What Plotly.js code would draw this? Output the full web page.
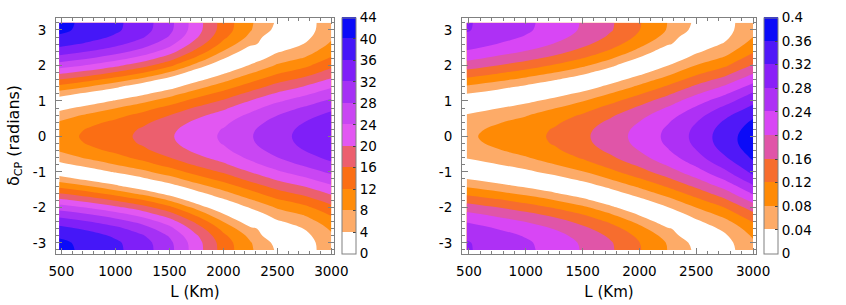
<!DOCTYPE html>
<html><head><meta charset="utf-8">
<script src="https://cdn.plot.ly/plotly-3.0.1.min.js"></script>
<style>html,body{margin:0;padding:0;background:#fff}#chart{width:846px;height:305px}</style>
</head><body><div id="chart"></div>
<script>
// Baseline L (km) columns and delta_CP rows (radians)
const L_km = [480, 750, 1000, 1250, 1500, 1750, 2000, 2250, 2500, 2750, 3000];
const deltaCP = [-3.2,-3.0,-2.8,-2.6,-2.4,-2.2,-2.0,-1.8,-1.6,-1.4,-1.2,-1.0,-0.8,-0.6,-0.4,-0.2,0,
                 0.2,0.4,0.6,0.8,1.0,1.2,1.4,1.6,1.8,2.0,2.2,2.4,2.6,2.8,3.0,3.2];

// Left panel values (rows follow deltaCP, columns follow L_km)
const zLeft = [
 [41.0,39.1,36.9,33.9,29.3,21.9,14.3,8.6,3.4,1.9,6.5],
 [40.8,38.9,36.7,33.7,29.0,21.7,14.1,8.3,2.7,2.1,6.6],
 [39.5,37.6,35.4,32.4,27.7,20.5,12.9,7.0,0.3,2.8,7.3],
 [37.3,35.3,33.1,30.0,25.3,18.2,10.8,4.8,1.6,4.1,8.6],
 [34.2,32.1,29.8,26.6,22.0,15.0,7.9,1.5,3.5,6.0,10.3],
 [30.4,28.2,25.7,22.4,17.8,11.1,4.2,1.5,5.8,8.3,12.5],
 [26.0,23.6,20.9,17.6,13.0,6.6,0.0,4.4,8.5,11.0,15.0],
 [21.1,18.6,15.7,12.3,7.7,1.6,3.3,7.5,11.4,14.0,17.7],
 [16.0,13.3,10.3,6.7,2.2,2.7,6.7,10.7,14.5,17.1,20.6],
 [10.8,8.0,4.8,1.1,2.4,6.5,10.1,14.0,17.6,20.2,23.5],
 [5.9,2.9,0.4,3.2,6.4,10.1,13.5,17.2,20.6,23.2,26.2],
 [1.3,1.7,4.4,7.0,10.0,13.5,16.5,20.1,23.4,26.0,28.8],
 [2.7,5.5,7.9,10.4,13.3,16.5,19.3,22.7,25.9,28.5,31.1],
 [5.9,8.6,10.7,13.1,15.9,19.0,21.5,24.8,27.9,30.5,33.0],
 [8.3,10.9,12.8,15.1,17.9,20.8,23.1,26.4,29.4,32.0,34.4],
 [9.8,12.3,14.2,16.4,19.1,21.9,24.2,27.4,30.3,32.9,35.2],
 [10.3,12.8,14.6,16.8,19.5,22.3,24.5,27.7,30.6,33.2,35.5],
 [9.8,12.3,14.2,16.4,19.1,21.9,24.2,27.4,30.3,32.9,35.2],
 [8.3,10.9,12.8,15.1,17.9,20.8,23.1,26.4,29.4,32.0,34.4],
 [5.9,8.6,10.7,13.1,15.9,19.0,21.5,24.8,27.9,30.5,33.0],
 [2.7,5.5,7.9,10.4,13.3,16.5,19.3,22.7,25.9,28.5,31.1],
 [1.3,1.7,4.4,7.0,10.0,13.5,16.5,20.1,23.4,26.0,28.8],
 [5.9,2.9,0.4,3.2,6.4,10.1,13.5,17.2,20.6,23.2,26.2],
 [10.8,8.0,4.8,1.1,2.4,6.5,10.1,14.0,17.6,20.2,23.5],
 [16.0,13.3,10.3,6.7,2.2,2.7,6.7,10.7,14.5,17.1,20.6],
 [21.1,18.6,15.7,12.3,7.7,1.6,3.3,7.5,11.4,14.0,17.7],
 [26.0,23.6,20.9,17.6,13.0,6.6,0.0,4.4,8.5,11.0,15.0],
 [30.4,28.2,25.7,22.4,17.8,11.1,4.2,1.5,5.8,8.3,12.5],
 [34.2,32.1,29.8,26.6,22.0,15.0,7.9,1.5,3.5,6.0,10.3],
 [37.3,35.3,33.1,30.0,25.3,18.2,10.8,4.8,1.6,4.1,8.6],
 [39.5,37.6,35.4,32.4,27.7,20.5,12.9,7.0,0.3,2.8,7.3],
 [40.8,38.9,36.7,33.7,29.0,21.7,14.1,8.3,2.7,2.1,6.6],
 [41.0,39.1,36.9,33.9,29.3,21.9,14.3,8.6,3.4,1.9,6.5]
];

// Right panel values
const zRight = [
 [0.284,0.264,0.248,0.225,0.197,0.165,0.123,0.079,0.032,0.022,0.070],
 [0.283,0.263,0.246,0.223,0.195,0.163,0.121,0.077,0.026,0.025,0.074],
 [0.274,0.254,0.237,0.214,0.186,0.153,0.111,0.065,0.002,0.034,0.085],
 [0.259,0.239,0.222,0.198,0.170,0.137,0.093,0.044,0.015,0.048,0.100],
 [0.237,0.217,0.199,0.176,0.148,0.113,0.068,0.014,0.033,0.068,0.122],
 [0.211,0.191,0.172,0.149,0.120,0.083,0.036,0.013,0.055,0.093,0.150],
 [0.180,0.160,0.140,0.116,0.088,0.049,0.000,0.039,0.081,0.121,0.180],
 [0.146,0.126,0.105,0.081,0.052,0.012,0.028,0.067,0.109,0.152,0.212],
 [0.110,0.090,0.069,0.044,0.015,0.022,0.058,0.096,0.138,0.183,0.245],
 [0.074,0.054,0.032,0.007,0.019,0.052,0.088,0.126,0.168,0.214,0.275],
 [0.040,0.020,0.003,0.024,0.050,0.082,0.117,0.154,0.196,0.244,0.305],
 [0.008,0.012,0.031,0.053,0.078,0.110,0.144,0.181,0.223,0.271,0.330],
 [0.020,0.038,0.056,0.078,0.103,0.134,0.167,0.204,0.246,0.295,0.350],
 [0.043,0.060,0.077,0.098,0.124,0.154,0.187,0.223,0.265,0.315,0.366],
 [0.060,0.077,0.092,0.113,0.139,0.169,0.201,0.237,0.279,0.330,0.377],
 [0.070,0.087,0.102,0.123,0.149,0.178,0.210,0.246,0.288,0.340,0.382],
 [0.074,0.090,0.105,0.126,0.152,0.181,0.213,0.249,0.291,0.342,0.381],
 [0.070,0.087,0.102,0.123,0.149,0.178,0.210,0.246,0.288,0.337,0.376],
 [0.060,0.077,0.092,0.113,0.139,0.169,0.201,0.237,0.279,0.326,0.367],
 [0.043,0.060,0.077,0.098,0.124,0.154,0.187,0.223,0.265,0.310,0.351],
 [0.020,0.038,0.056,0.078,0.103,0.134,0.167,0.204,0.246,0.289,0.330],
 [0.008,0.012,0.031,0.053,0.078,0.110,0.144,0.181,0.223,0.263,0.310],
 [0.040,0.020,0.003,0.024,0.050,0.082,0.117,0.154,0.196,0.235,0.285],
 [0.074,0.054,0.032,0.007,0.019,0.052,0.088,0.126,0.168,0.205,0.255],
 [0.110,0.090,0.069,0.044,0.015,0.022,0.058,0.096,0.138,0.174,0.225],
 [0.146,0.126,0.105,0.081,0.052,0.012,0.028,0.067,0.109,0.143,0.195],
 [0.180,0.160,0.140,0.116,0.088,0.049,0.000,0.039,0.081,0.113,0.165],
 [0.211,0.191,0.172,0.149,0.120,0.083,0.036,0.013,0.055,0.086,0.140],
 [0.237,0.217,0.199,0.176,0.148,0.113,0.068,0.014,0.033,0.063,0.115],
 [0.259,0.239,0.222,0.198,0.170,0.137,0.093,0.044,0.015,0.044,0.095],
 [0.274,0.254,0.237,0.214,0.186,0.153,0.111,0.065,0.002,0.031,0.080],
 [0.283,0.263,0.246,0.223,0.195,0.163,0.121,0.077,0.026,0.024,0.072],
 [0.284,0.264,0.248,0.225,0.197,0.165,0.123,0.079,0.032,0.022,0.070]
];

const leftLevels = [0,4,8,12,16,20,24,28,32,36,40,44];
const leftLevelText = ['0','4','8','12','16','20','24','28','32','36','40','44'];
const rightLevels = [0,0.04,0.08,0.12,0.16,0.2,0.24,0.28,0.32,0.36,0.4];
const rightLevelText = ['0','0.04','0.08','0.12','0.16','0.2','0.24','0.28','0.32','0.36','0.4'];
const xTickVals = [500,1000,1500,2000,2500,3000];
const xTickText = ['500','1000','1500','2000','2500','3000'];
const yTickVals = [-3,-2,-1,0,1,2,3];
const yTickText = ['-3','-2','-1','0','1','2','3'];

const leftColors = ['#ffffff','#fdab68','#ff8c0a','#fb6e14','#ec5f6e','#e257f2','#c946f3','#a530f5','#7f1ff8','#4517f8','#0b0bf8'];
const rightColors = ['#ffffff','#fdab68','#ff8a05','#f76d2e','#e055a8','#d846f5','#ae30f5','#8a20f8','#5018f8','#0b0bf8'];

function stepScale(colors){
  const n = colors.length, s = [];
  colors.forEach((c,i)=>{ s.push([i/n, c]); s.push([(i+1)/n, c]); });
  return s;
}

const W = 846, H = 305;
const frameTop = 17.5, frameBot = 253.5;
const yDom = [(H-frameBot)/H, (H-frameTop)/H];
const axisGray = '#808080';
const fontFam = 'DejaVu Sans';
const tickSize = 13.5, titleSize = 15;

function xAxis(dom, rng, anchor){
  return {domain: dom, range: rng, anchor: anchor, tickmode:'array', tickvals:xTickVals, ticktext:xTickText,
    ticks:'inside', ticklen:6, tickcolor:axisGray, tickwidth:1, showline:true, linecolor:axisGray, linewidth:1,
    mirror:'allticks', showgrid:false, zeroline:false, ticklabelstandoff:5,
    minor:{tickmode:'linear', tick0:0, dtick:100, ticks:'inside', ticklen:3, tickcolor:axisGray, showgrid:false},
    tickfont:{size:tickSize, family:fontFam, color:'#000'},
    title:{text:'L (Km)', font:{size:titleSize, family:fontFam, color:'#000'}, standoff:8}};
}
function yAxis(anchor, withTitle){
  const a = {domain: yDom, range:[-3.30,3.35], anchor: anchor, tickmode:'array', tickvals:yTickVals, ticktext:yTickText,
    ticks:'inside', ticklen:6, tickcolor:axisGray, tickwidth:1, showline:true, linecolor:axisGray, linewidth:1,
    mirror:'allticks', showgrid:false, zeroline:false, ticklabelstandoff:6,
    minor:{tickmode:'linear', tick0:0, dtick:0.2, ticks:'inside', ticklen:3, tickcolor:axisGray, showgrid:false},
    tickfont:{size:tickSize, family:fontFam, color:'#000'}};
  if(withTitle) a.title = {text:'δ<sub>CP</sub> (radians)', font:{size:16, family:fontFam, color:'#000'}, standoff:9};
  return a;
}
function cbar(xpx, vals, txt){
  return {x: xpx/W, xanchor:'left', xpad:0, y: yDom[0], yanchor:'bottom', ypad:0,
    len: frameBot-frameTop, lenmode:'pixels', thickness:14, thicknessmode:'pixels',
    outlinewidth:1, outlinecolor:axisGray, tickmode:'array', tickvals:vals, ticktext:txt,
    ticks:'inside', ticklen:3, tickcolor:'#444', tickfont:{size:tickSize, family:fontFam, color:'#000'}};
}

const traces = [
  {type:'contour', x:L_km, y:deltaCP, z:zLeft, xaxis:'x', yaxis:'y', autocontour:false,
   contours:{start:4, end:40, size:4, coloring:'fill', showlines:false}, line:{width:0},
   colorscale: stepScale(leftColors), zauto:false, zmin:0, zmax:44,
   colorbar: cbar(342, leftLevels, leftLevelText), hoverinfo:'skip'},
  {type:'contour', x:L_km, y:deltaCP, z:zRight, xaxis:'x2', yaxis:'y2', autocontour:false,
   contours:{start:0.04, end:0.36, size:0.04, coloring:'fill', showlines:false}, line:{width:0},
   colorscale: stepScale(rightColors), zauto:false, zmin:0, zmax:0.4,
   colorbar: cbar(764, rightLevels, rightLevelText), hoverinfo:'skip'}
];

const layout = {
  width:W, height:H, margin:{l:0,r:0,t:0,b:0}, paper_bgcolor:'#fff', plot_bgcolor:'#fff',
  font:{family:fontFam, size:tickSize, color:'#000'}, showlegend:false,
  xaxis: xAxis([56/W, 334/W], [450,3025], 'y'),
  yaxis: yAxis('x', true),
  xaxis2: xAxis([462/W, 756/W], [439,3026], 'y2'),
  yaxis2: yAxis('x2', false)
};

Plotly.newPlot('chart', traces, layout, {displayModeBar:false, staticPlot:true});
</script>
</body></html>
